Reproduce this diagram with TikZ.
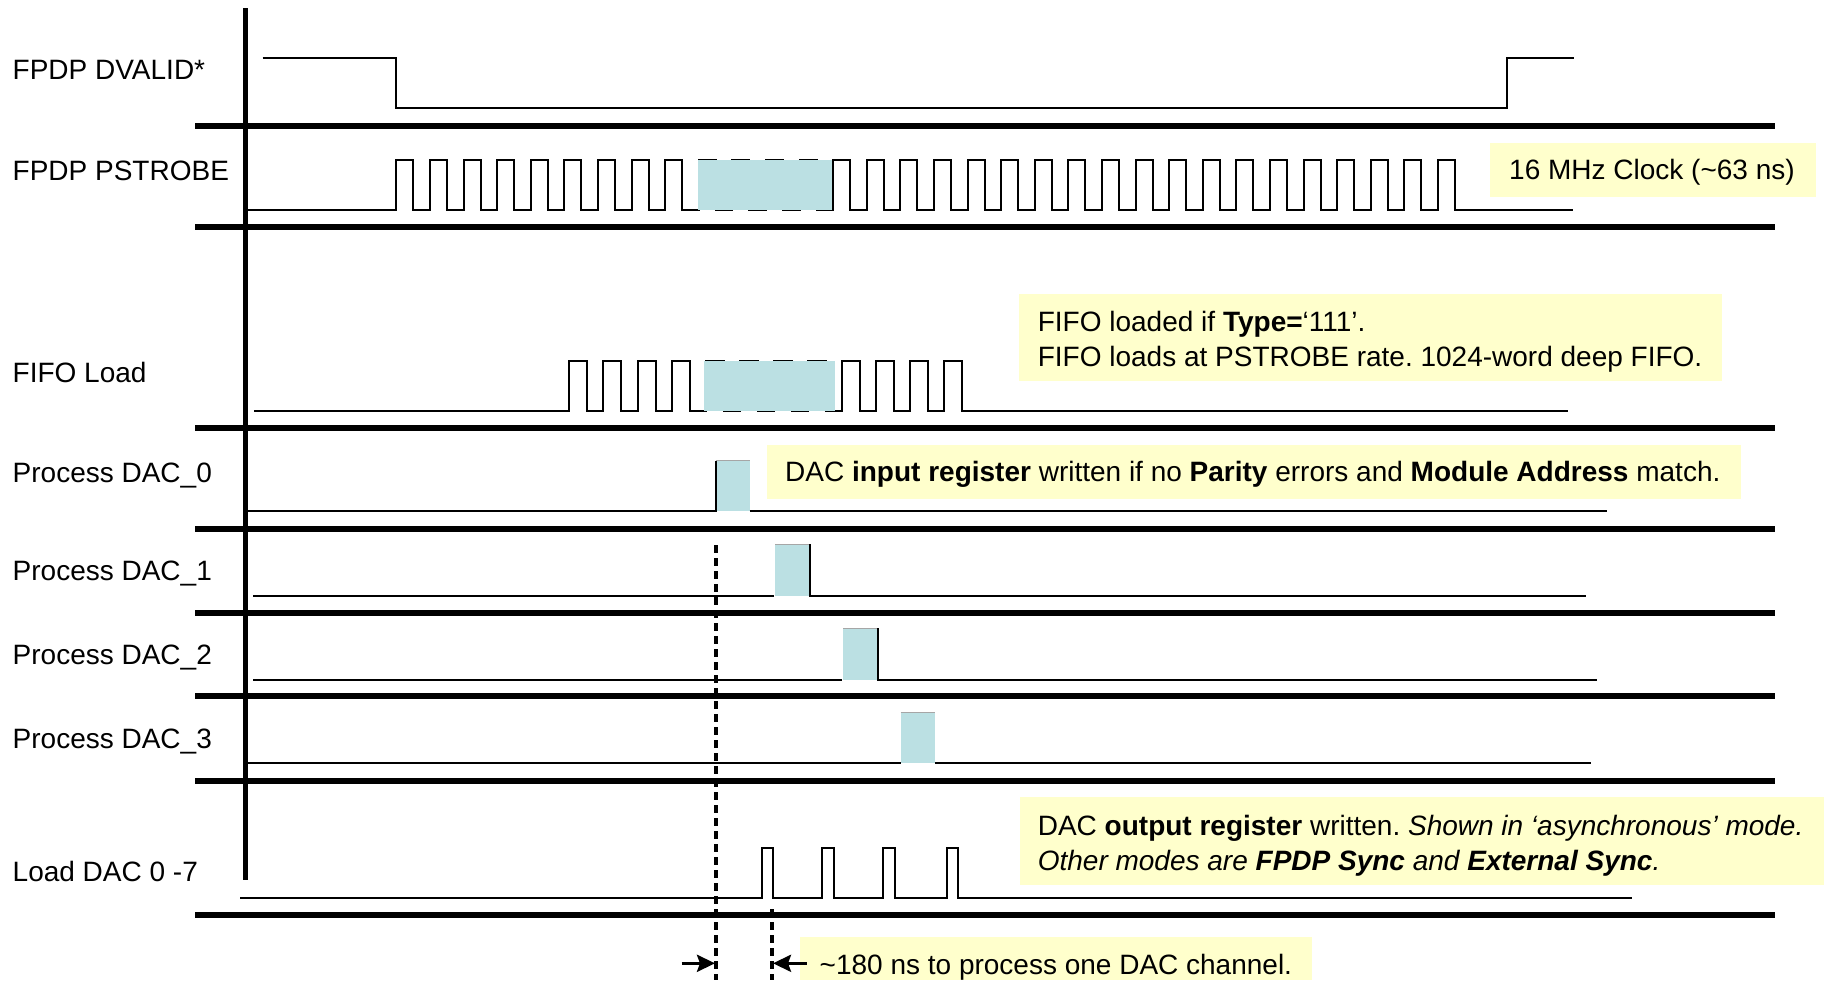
\documentclass[tikz,border=0pt]{standalone}
\usepackage{fontspec}
\setmainfont{Liberation Sans}
\usetikzlibrary{arrows.meta}
\definecolor{noteyellow}{RGB}{255,255,204}
\definecolor{shadeblue}{RGB}{187,224,227}
\frenchspacing
\begin{document}
\frenchspacing
\begin{tikzpicture}[x=1pt,y=-1pt,
  sig/.style={line width=2pt, line join=miter},
  sep/.style={line width=6pt},
  lbl/.style={anchor=base west, inner sep=0pt, font=\fontsize{28}{34.5}\selectfont},
  note/.style={fill=noteyellow},
  shade/.style={fill=shadeblue},
  topedge/.style={line width=1pt, draw=gray!70},
  guide/.style={line width=3.2pt, dash pattern=on 8pt off 5pt},
  meas/.style={line width=3.2pt, -{Stealth[length=18pt,width=17pt,inset=3pt]}}]

\useasboundingbox (0,0) rectangle (1828,980);

% frame
\foreach \y in {125.5,226.5,428,528.5,612.5,696,781,915}
  \draw[sep] (195,\y) -- (1775,\y);
\draw[line width=5pt] (245,8.3) -- (245,880);

% labels
\node[lbl] (l1) at (12.5,79.5) {FPDP DVALID*};
\node[lbl] (l2) at (12.5,180.4) {FPDP PSTROBE};
\node[lbl] (l3) at (12.5,382) {FIFO Load};
\node[lbl] (l4) at (12.5,482) {Process DAC\_0};
\node[lbl] (l5) at (12.5,580) {Process DAC\_1};
\node[lbl] (l6) at (12.5,664) {Process DAC\_2};
\node[lbl] (l7) at (12.5,748) {Process DAC\_3};
\node[lbl] (l8) at (12.5,881) {Load DAC 0 -7};

% DVALID
\draw[sig] (262.5,58.3) -- (396.4,58.3) -- (396.4,108.3) -- (1507,108.3) -- (1507,58.3) -- (1574,58.3);

% PSTROBE
\draw[sig] (248,209.5) -- (396.4,209.5)
  foreach \k in {0,...,31}{ -- ({396.4+33.6*\k},159.5) -- ({396.4+33.6*\k+17},159.5)
     -- ({396.4+33.6*\k+17},209.5) -- ({396.4+33.6*\k+33.6},209.5)} -- (1573,209.5);
\fill[shade] (698.3,159.5) rectangle (831.5,209.5);

% FIFO Load
\draw[sig] (254,411) -- (569.3,411)
  foreach \k in {0,...,11}{ -- ({569.3+34.1*\k},361) -- ({569.3+34.1*\k+18},361)
     -- ({569.3+34.1*\k+18},411) -- ({569.3+34.1*\k+34.1},411)} -- (1568,411);
\fill[shade] (703.5,361) rectangle (835,411);

% Process DAC_0
\fill[shade] (716,460.7) rectangle (749.5,511);
\draw[topedge] (716,460.7) -- (749.5,460.7);
\draw[sig] (248,511) -- (716,511) -- (716,460.7);
\draw[sig] (749.5,511) -- (1607,511);

% Process DAC_1
\fill[shade] (775,544.4) rectangle (810,595.7);
\draw[topedge] (775,544.4) -- (810,544.4);
\draw[sig] (253,595.7) -- (774,595.7);
\draw[sig] (810,544.4) -- (810,595.7) -- (1585.5,595.7);

% Process DAC_2
\fill[shade] (843.3,628.3) rectangle (877.7,680);
\draw[topedge] (843.3,628.3) -- (877.7,628.3);
\draw[sig] (253,680) -- (841.7,680);
\draw[sig] (877.7,628.3) -- (877.7,680) -- (1597,680);

% Process DAC_3
\fill[shade] (900.7,712.7) rectangle (935.3,763.3);
\draw[topedge] (900.7,712.7) -- (935.3,712.7);
\draw[sig] (248,763.3) -- (900.7,763.3);
\draw[sig] (935.3,763.3) -- (1591,763.3);

% Load DAC 0-7
\draw[sig] (240,897.5)
  foreach \p in {761.7,822.3,883.3,946.7}{ -- (\p,897.5) -- (\p,848.3) -- ({\p+11.7},848.3) -- ({\p+11.7},897.5)}
  -- (1632,897.5);

% notes
\fill[note] (1490,143.3) rectangle (1816,196.7);
\node[lbl] (n1) at (1509,179) {16 MHz Clock (\textasciitilde63 ns)};

\fill[note] (1019.4,293.5) rectangle (1722,380.7);
\node[lbl] (n2a) at (1037.6,331.7) {FIFO loaded if \textbf{Type=}‘111’.};
\node[lbl] (n2b) at (1037.6,366) {FIFO loads at PSTROBE rate. 1024-word deep FIFO.};

\fill[note] (767,445) rectangle (1741,499.3);
\node[lbl] (n3) at (785,481) {DAC \textbf{input register} written if no \textbf{Parity} errors and \textbf{Module Address} match.};

\fill[note] (1019.5,797.4) rectangle (1823.5,885);
\node[lbl] (n4a) at (1037.6,835.4) {DAC \textbf{output register} written. \textit{Shown in ‘asynchronous’ mode.}};
\node[lbl] (n4b) at (1037.6,870.4) {\textit{Other modes are \textbf{FPDP Sync} and \textbf{External Sync}.}};

\fill[note] (800,936.7) rectangle (1311.5,980);
\node[lbl] (n5) at (819.5,974) {\textasciitilde180 ns to process one DAC channel.};

% timing guides
\coordinate (g1top) at (716,545);
\coordinate (g1bot) at (716,980);
\coordinate (g2top) at (772,909);
\coordinate (g2bot) at (772,980);
\draw[guide] (g1top) -- (g1bot);
\draw[guide] (g2top) -- (g2bot);
\coordinate (a1s) at (681.7,963.3);
\coordinate (a1e) at (715,963.3);
\coordinate (a2s) at (806.7,963.3);
\coordinate (a2e) at (773,963.3);
\draw[meas] (a1s) -- (a1e);
\draw[meas] (a2s) -- (a2e);
\end{tikzpicture}
\end{document}
